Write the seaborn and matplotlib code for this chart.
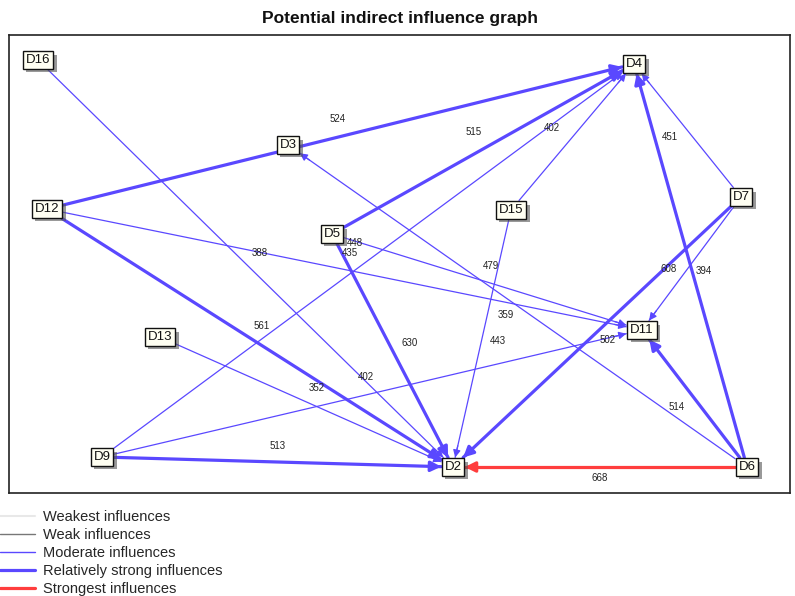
import numpy as np
import pandas as pd
import matplotlib
matplotlib.use("Agg")
import matplotlib.pyplot as plt
import matplotlib.patheffects as pe
from matplotlib.patches import FancyArrowPatch
from matplotlib.lines import Line2D
import seaborn as sns

# graph layout (node centres, in the picture's own units)
nodes = ['D16', 'D4', 'D3', 'D12', 'D5', 'D15', 'D7', 'D11', 'D13', 'D9', 'D2', 'D6']
node_x = [38, 634, 288, 47, 332, 511, 741, 642, 160, 102, 453, 747]
node_y = [60, 64, 145, 209, 234, 210, 197, 330, 337, 457, 467, 467]

# edges: source -> target, influence value, class
edge_src = ['D12', 'D5', 'D15', 'D7', 'D9', 'D12', 'D16', 'D12', 'D5', 'D6',
            'D15', 'D5', 'D13', 'D9', 'D9', 'D6', 'D7', 'D7', 'D6', 'D6']
edge_dst = ['D4', 'D4', 'D4', 'D4', 'D4', 'D11', 'D2', 'D2', 'D11', 'D3',
            'D2', 'D2', 'D2', 'D11', 'D2', 'D4', 'D11', 'D2', 'D11', 'D2']
edge_val = [524, 515, 402, 451, 448, 435, 388, 561, 479, 359,
            443, 630, 352, 402, 513, 608, 394, 502, 514, 668]
edge_lvl = ['strong', 'strong', 'moderate', 'moderate', 'moderate', 'moderate', 'moderate', 'strong',
            'moderate', 'moderate', 'moderate', 'strong', 'moderate', 'moderate', 'strong', 'strong',
            'moderate', 'strong', 'strong', 'strongest']

legend_labels = ['Weakest influences', 'Weak influences', 'Moderate influences',
                 'Relatively strong influences', 'Strongest influences']

# label nudges from the edge midpoint (pixels)
label_nudge = [(-3, -18), (-9, -17), (-21, -9), (-18, 6), (-13, -17), (5, -16), (14, -10), (12, -12),
               (4, -16), (-12, 9), (16, 2), (17, -7), (10, -14), (-6, -16), (0, -16), (-22, 3),
               (12, 7), (11, 8), (-18, 8), (0, 11)]

blue = '#5a48ff'
red = '#ff3d3d'
palette = {'moderate': blue, 'strong': blue, 'strongest': red}
widths = {'moderate': 0.9, 'strong': 2.3, 'strongest': 2.3}

pos = {n: (x, y) for n, x, y in zip(nodes, node_x, node_y)}


def half_size(name):
    return 4 + 3.9 * len(name), 9.5


def box_edge(a, b, name):
    hw, hh = half_size(name)
    dx, dy = b[0] - a[0], b[1] - a[1]
    s = min(hw / abs(dx) if dx else np.inf, hh / abs(dy) if dy else np.inf)
    return a[0] + dx * s, a[1] + dy * s


rows = []
segs = []
for i, (s, t, lvl) in enumerate(zip(edge_src, edge_dst, edge_lvl)):
    p0 = box_edge(pos[s], pos[t], s)
    p1 = box_edge(pos[t], pos[s], t)
    segs.append((p0, p1))
    rows.append({'edge': i, 'x': p0[0], 'y': p0[1], 'level': lvl})
    rows.append({'edge': i, 'x': p1[0], 'y': p1[1], 'level': lvl})
df = pd.DataFrame(rows)

sns.set_theme(style='white')
plt.rcParams['font.family'] = ['Liberation Sans', 'DejaVu Sans']

fig = plt.figure(figsize=(7.95, 5.96), dpi=100)
ax = fig.add_axes([9 / 795, 1 - 493 / 596, 781 / 795, 458 / 596])

sns.lineplot(data=df, x='x', y='y', units='edge', estimator=None, sort=False,
             hue='level', palette=palette, size='level', sizes=widths,
             legend=False, ax=ax, zorder=2)

# arrow heads
for (p0, p1), lvl in zip(segs, edge_lvl):
    d = np.array(p1) - np.array(p0)
    u = d / np.hypot(*d)
    start = np.array(p1) - 12 * u
    ms = 11 if lvl == 'moderate' else 15
    ax.add_patch(FancyArrowPatch(tuple(start), p1, arrowstyle='-|>', mutation_scale=ms,
                                 color=palette[lvl], lw=widths[lvl], shrinkA=0, shrinkB=0,
                                 zorder=3))

# edge values
for (s, t, v), (nx, ny) in zip(zip(edge_src, edge_dst, edge_val), label_nudge):
    mx = (pos[s][0] + pos[t][0]) / 2 + nx
    my = (pos[s][1] + pos[t][1]) / 2 + ny
    ax.text(mx, my, str(v), fontsize=7, ha='center', va='center', color='#222222', zorder=4)

# node boxes
for n in nodes:
    txt = ax.text(pos[n][0], pos[n][1], n, fontsize=9.5, ha='center', va='center', zorder=6,
                  color='#111111',
                  bbox=dict(boxstyle='square,pad=0.22', fc='#fffff2', ec='#111111', lw=1.0))
    txt.get_bbox_patch().set_path_effects([
        pe.SimplePatchShadow(offset=(2.5, -2.5), shadow_rgbFace='#555555', alpha=0.6),
        pe.Normal()])

ax.set_xlim(9, 790)
ax.set_ylim(493, 35)
ax.set_xticks([])
ax.set_yticks([])
ax.set_xlabel('')
ax.set_ylabel('')
for sp in ax.spines.values():
    sp.set_visible(True)
    sp.set_color('#222222')
    sp.set_linewidth(1.2)

fig.text(400 / 795, 1 - 19 / 596, 'Potential indirect influence graph', ha='center', va='center',
         fontsize=12.5, fontweight='bold', color='#111111')

handles = [Line2D([], [], color='#e8e8e8', lw=1.5),
           Line2D([], [], color='#777777', lw=1.0),
           Line2D([], [], color=blue, lw=1.0),
           Line2D([], [], color=blue, lw=2.3),
           Line2D([], [], color=red, lw=2.3)]
fig.legend(handles, legend_labels, loc='upper left', bbox_to_anchor=(0.0, 1 - 510 / 596),
           frameon=False, fontsize=10.5, handlelength=2.4, handletextpad=0.55,
           labelspacing=0.28, borderpad=0, borderaxespad=0)

fig.savefig('out.png', dpi=100)
